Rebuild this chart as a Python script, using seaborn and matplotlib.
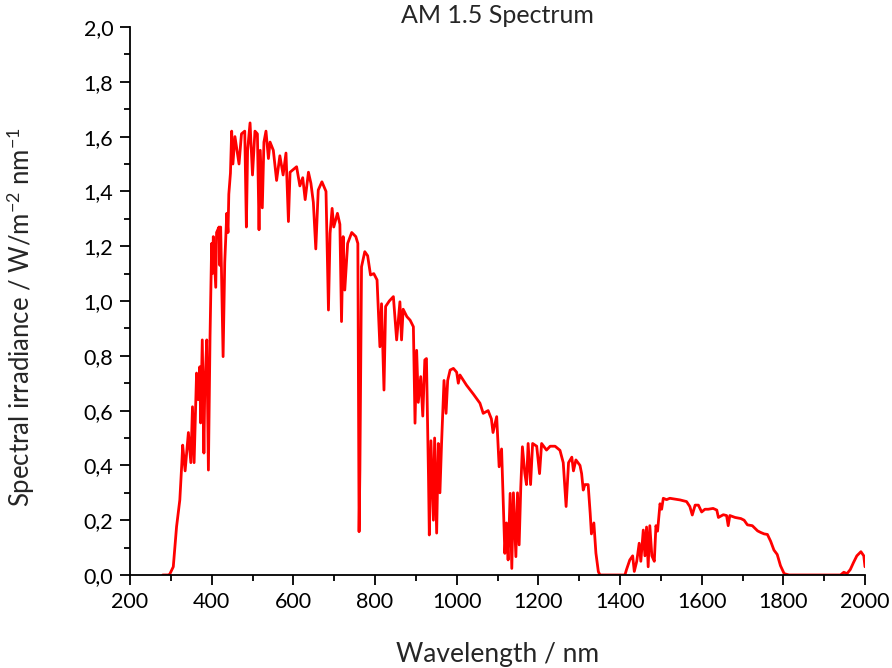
import matplotlib
matplotlib.use("Agg")
import matplotlib.pyplot as plt
import seaborn as sns
import pandas as pd
from matplotlib.ticker import MultipleLocator, FixedLocator, FixedFormatter

wavelength = [280, 295, 298, 306, 314, 322, 327, 329, 335, 343, 349, 353, 357, 363, 367, 371, 373, 377, 381, 383,
              388, 392, 396, 400, 402, 404, 410, 412, 418, 420, 422, 428, 432, 437, 440, 442, 446, 449, 452, 457,
              461, 467, 473, 481, 485, 488, 494, 500, 506, 512, 516, 519, 524, 528, 533, 539, 543, 551, 559, 567,
              575, 582, 588, 592, 600, 608, 616, 623, 629, 637, 643, 649, 655, 661, 670, 680, 686, 690, 695, 699,
              708, 714, 718, 722, 726, 733, 743, 753, 758, 761, 763, 767, 775, 782, 789, 797, 805, 812, 816, 822,
              826, 835, 845, 853, 861, 865, 869, 878, 886, 894, 898, 902, 906, 912, 917, 922, 926, 931, 933, 937,
              943, 946, 951, 955, 959, 963, 969, 974, 978, 984, 992, 1000, 1004, 1008, 1024, 1041, 1057, 1065, 1077, 1085,
              1089, 1098, 1104, 1110, 1114, 1118, 1122, 1126, 1131, 1135, 1139, 1145, 1149, 1153, 1157, 1161, 1167, 1171, 1175, 1181,
              1186, 1196, 1203, 1208, 1220, 1229, 1241, 1253, 1261, 1268, 1274, 1282, 1286, 1292, 1302, 1306, 1310, 1314, 1322, 1327,
              1330, 1336, 1341, 1347, 1351, 1412, 1416, 1424, 1431, 1435, 1441, 1447, 1451, 1457, 1461, 1465, 1469, 1473, 1478, 1484,
              1488, 1492, 1498, 1502, 1506, 1514, 1522, 1535, 1547, 1563, 1571, 1577, 1584, 1592, 1600, 1608, 1616, 1628, 1637, 1641,
              1653, 1661, 1665, 1669, 1682, 1696, 1704, 1712, 1724, 1737, 1745, 1753, 1761, 1769, 1777, 1785, 1793, 1802, 1814, 1940,
              1948, 1956, 1964, 1972, 1980, 1990, 1997, 2000]
irradiance = [0.0, 0.0, 0.005, 0.03, 0.176, 0.274, 0.41, 0.474, 0.38, 0.52, 0.41, 0.614, 0.41, 0.737, 0.64, 0.76, 0.555, 0.858, 0.445, 0.67,
              0.858, 0.383, 0.87, 1.21, 1.10, 1.235, 1.05, 1.25, 1.27, 1.13, 1.27, 0.797, 1.14, 1.32, 1.25, 1.39, 1.467, 1.62, 1.50, 1.60,
              1.56, 1.50, 1.61, 1.62, 1.27, 1.55, 1.65, 1.46, 1.62, 1.61, 1.26, 1.55, 1.34, 1.58, 1.62, 1.52, 1.58, 1.55, 1.44, 1.53,
              1.46, 1.54, 1.29, 1.47, 1.48, 1.49, 1.42, 1.45, 1.37, 1.47, 1.43, 1.36, 1.19, 1.405, 1.435, 1.40, 0.967, 1.247, 1.338, 1.27,
              1.32, 1.28, 0.925, 1.235, 1.04, 1.21, 1.25, 1.235, 1.21, 0.158, 0.383, 1.125, 1.18, 1.165, 1.095, 1.10, 1.077, 0.833, 0.99, 0.675,
              0.98, 1.0, 1.016, 0.858, 0.997, 0.858, 0.97, 0.943, 0.93, 0.906, 0.554, 0.82, 0.63, 0.724, 0.58, 0.785, 0.79, 0.359, 0.146, 0.49,
              0.2, 0.5, 0.153, 0.48, 0.3, 0.48, 0.71, 0.59, 0.71, 0.748, 0.754, 0.74, 0.70, 0.73, 0.693, 0.66, 0.627, 0.59, 0.60, 0.57,
              0.52, 0.578, 0.395, 0.46, 0.274, 0.079, 0.19, 0.055, 0.298, 0.024, 0.30, 0.067, 0.30, 0.11, 0.32, 0.468, 0.37, 0.33, 0.48, 0.33,
              0.48, 0.47, 0.37, 0.48, 0.456, 0.47, 0.47, 0.455, 0.41, 0.25, 0.41, 0.43, 0.38, 0.42, 0.40, 0.37, 0.31, 0.33, 0.33, 0.225,
              0.15, 0.19, 0.08, 0.012, 0.0, 0.0, 0.02, 0.055, 0.07, 0.013, 0.05, 0.116, 0.05, 0.164, 0.07, 0.175, 0.03, 0.18, 0.07, 0.05,
              0.18, 0.16, 0.26, 0.24, 0.28, 0.275, 0.28, 0.277, 0.274, 0.268, 0.25, 0.219, 0.255, 0.255, 0.23, 0.24, 0.24, 0.243, 0.237, 0.21,
              0.22, 0.217, 0.18, 0.217, 0.21, 0.206, 0.2, 0.183, 0.18, 0.161, 0.155, 0.15, 0.148, 0.123, 0.091, 0.075, 0.034, 0.005, 0.0, 0.0,
              0.01, 0.005, 0.02, 0.046, 0.07, 0.085, 0.07, 0.03]

x_ticks = [200, 400, 600, 800, 1000, 1200, 1400, 1600, 1800, 2000]
x_tick_labels = ["200", "400", "600", "800", "1000", "1200", "1400", "1600", "1800", "2000"]
y_ticks = [0.0, 0.2, 0.4, 0.6, 0.8, 1.0, 1.2, 1.4, 1.6, 1.8, 2.0]
y_tick_labels = ["0,0", "0,2", "0,4", "0,6", "0,8", "1,0", "1,2", "1,4", "1,6", "1,8", "2,0"]

sns.set_style("ticks")
plt.rcParams["font.family"] = ["Lato", "DejaVu Sans"]
plt.rcParams["mathtext.fontset"] = "custom"
plt.rcParams["mathtext.rm"] = "Lato"
plt.rcParams["mathtext.it"] = "Lato:italic"

df = pd.DataFrame({"wavelength": wavelength, "irradiance": irradiance})

fig = plt.figure(figsize=(8.92, 6.68), dpi=100)
ax = fig.add_axes([130 / 892, 1 - 575 / 668, 735 / 892, 548 / 668])
sns.lineplot(data=df, x="wavelength", y="irradiance", color="#ff0000", linewidth=2.0,
             estimator=None, sort=False, ax=ax)

ax.set_xlim(200, 2000)
ax.set_ylim(0, 2.0)
ax.xaxis.set_major_locator(FixedLocator(x_ticks))
ax.xaxis.set_major_formatter(FixedFormatter(x_tick_labels))
ax.yaxis.set_major_locator(FixedLocator(y_ticks))
ax.yaxis.set_major_formatter(FixedFormatter(y_tick_labels))
ax.xaxis.set_minor_locator(MultipleLocator(100))
ax.yaxis.set_minor_locator(MultipleLocator(0.1))

for side in ["top", "right"]:
    ax.spines[side].set_visible(False)
for side in ["left", "bottom"]:
    ax.spines[side].set_linewidth(1.3)
    ax.spines[side].set_color("black")

ax.tick_params(which="major", direction="out", length=7, width=1.3, labelsize=15.5, colors="black", pad=5)
ax.tick_params(which="minor", direction="out", length=4, width=1.3, colors="black")

ax.set_xlabel("Wavelength / nm", fontsize=19, labelpad=22)
ax.set_ylabel(r"Spectral irradiance / W/m$^{-2}$ nm$^{-1}$", fontsize=18.5)
ax.yaxis.set_label_coords(-0.126, 0.47)
ax.set_title("AM 1.5 Spectrum", fontsize=18, pad=2)

fig.savefig("out.png", dpi=100)
